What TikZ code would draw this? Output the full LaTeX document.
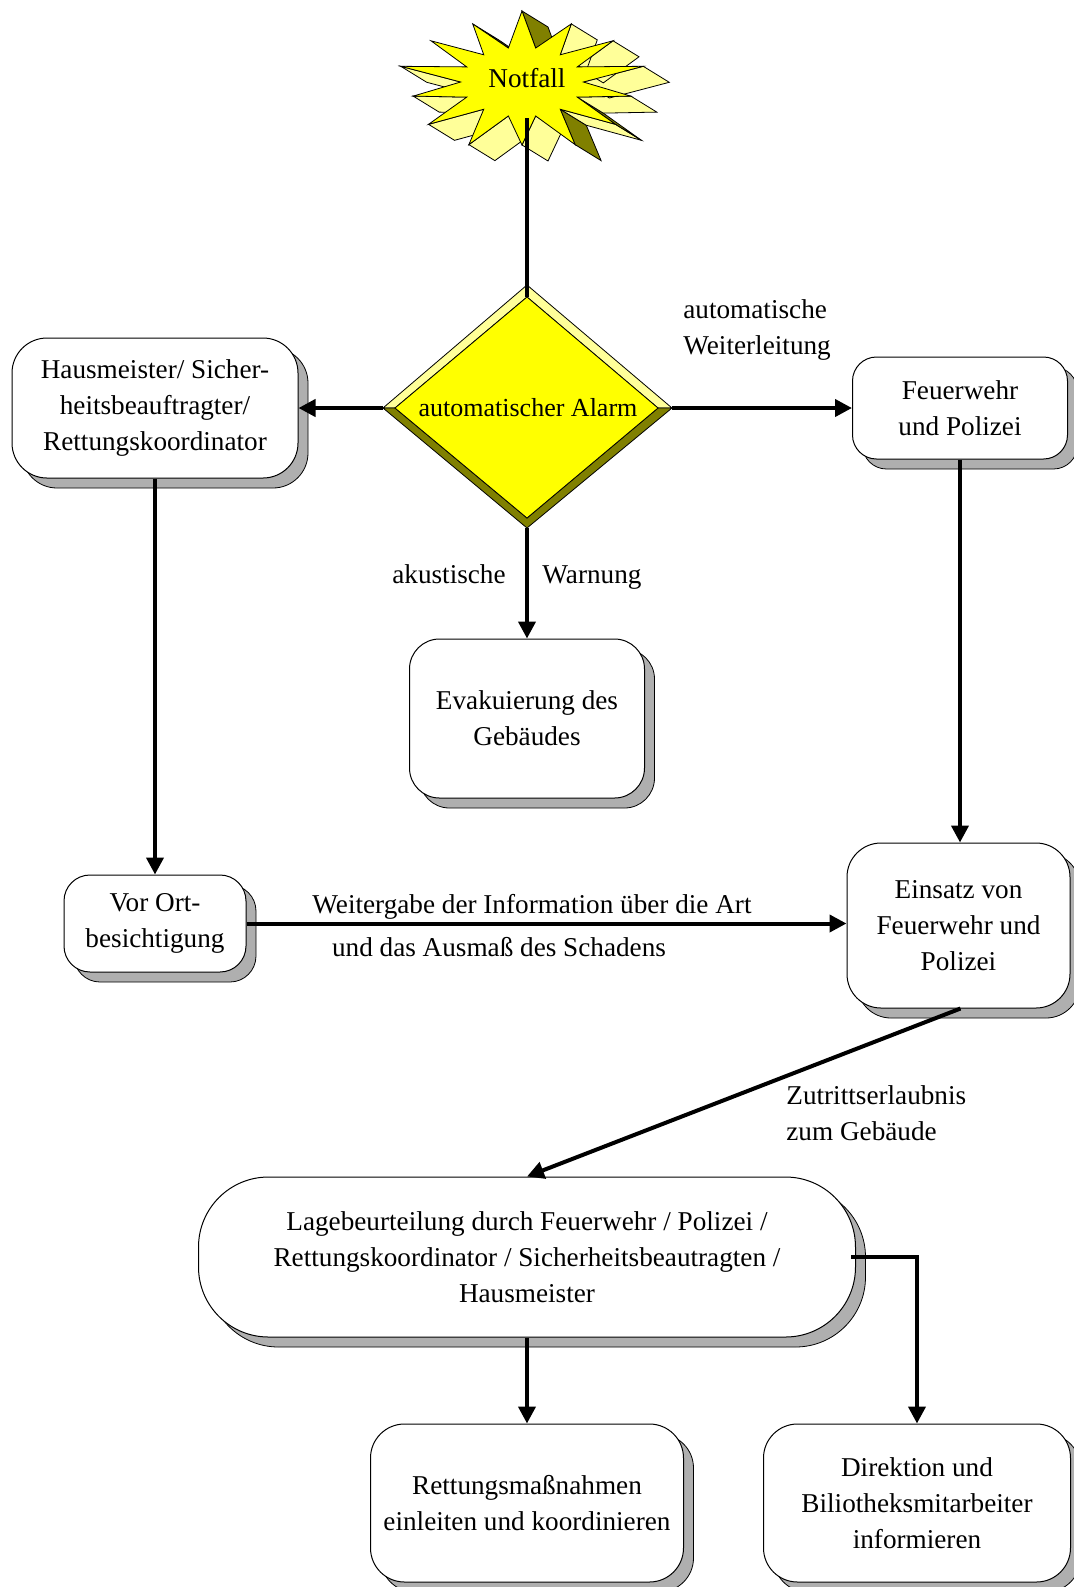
\documentclass[tikz,border=0pt]{standalone}
\usepackage{fontspec}
\setmainfont{Liberation Serif}
\usetikzlibrary{arrows.meta,shadows}
\definecolor{stary}{RGB}{255,255,0}
\definecolor{lighty}{RGB}{255,255,153}
\definecolor{olivey}{RGB}{128,128,0}
\definecolor{shadowgray}{RGB}{175,175,175}
\begin{document}
\begin{tikzpicture}[x=0.5pt,y=-0.5pt,
  font=\fontsize{13.6}{18}\selectfont,
  roundbox/.style={draw=black, line width=0.5pt, fill=white, rounded corners=#1,
    align=center, inner sep=0pt,
    general shadow={fill=shadowgray, draw=black, line width=0.4pt, shadow xshift=5pt, shadow yshift=-5pt}},
  roundbox/.default=17pt,
  conn/.style={line width=2pt},
  arr/.style={conn, -{Triangle[length=8.5pt,width=8.5pt]}},
  lbl/.style={inner sep=0pt, anchor=base}]
\useasboundingbox (0,0) rectangle (1074,1587);

% ---------- star (Notfall) ----------
\foreach \i in {0,...,27}{
  \pgfmathtruncatemacro\j{mod(\i+1,28)}
  \pgfmathsetmacro\angA{90+\i*360/28}
  \pgfmathsetmacro\angB{90+\j*360/28}
  \pgfmathsetmacro\radA{mod(\i,2)==0 ? 1+0.06*sin(5*\angA) : 0.52}
  \pgfmathsetmacro\radB{mod(\j,2)==0 ? 1+0.06*sin(5*\angB) : 0.52}
  \pgfmathsetmacro\xA{522+118*\radA*cos(\angA)}
  \pgfmathsetmacro\yA{82-67*\radA*sin(\angA)}
  \pgfmathsetmacro\xB{522+118*\radB*cos(\angB)}
  \pgfmathsetmacro\yB{82-67*\radB*sin(\angB)}
  \pgfmathtruncatemacro\vis{(16*(\xB-\xA)-26*(\yB-\yA))>0}
  \pgfmathtruncatemacro\up{(\xB-\xA)<0}
  \ifnum\vis=1
    \ifnum\up=1 \def\fc{olivey}\else\def\fc{lighty}\fi
    \filldraw[fill=\fc, draw=black, line width=0.4pt]
      (\xA,\yA) -- (\xB,\yB) -- (\xB+26,\yB+16) -- (\xA+26,\yA+16) -- cycle;
  \fi
}
\foreach \i in {0,...,27}{
  \pgfmathsetmacro\angA{90+\i*360/28}
  \pgfmathsetmacro\radA{mod(\i,2)==0 ? 1+0.06*sin(5*\angA) : 0.52}
  \coordinate (st\i) at ({522+118*\radA*cos(\angA)},{82-67*\radA*sin(\angA)});
}
\filldraw[fill=stary, draw=black, line width=0.4pt]
  (st0) \foreach \i in {1,...,27}{ -- (st\i)} -- cycle;
\node (notfall) at (527,78) {Notfall};
\coordinate (starbot) at (527,118);

% ---------- diamond ----------
\coordinate (dT) at (527,285);
\coordinate (dR) at (672,408);
\coordinate (dB) at (527,528);
\coordinate (dL) at (383,408);
\coordinate (iT) at (527,297);
\coordinate (iR) at (658,408);
\coordinate (iB) at (527,518);
\coordinate (iL) at (395,408);
\filldraw[fill=lighty, draw=black, line width=0.4pt] (dL) -- (dT) -- (dR) -- (iR) -- (iT) -- (iL) -- cycle;
\filldraw[fill=olivey, draw=black, line width=0.4pt] (dL) -- (dB) -- (dR) -- (iR) -- (iB) -- (iL) -- cycle;
\filldraw[fill=stary, draw=black, line width=0.4pt] (iT) -- (iR) -- (iB) -- (iL) -- cycle;
\node[font=\fontsize{13}{16}\selectfont] (alarm) at (528,408) {automatischer Alarm};

% ---------- boxes ----------
\node[roundbox=17.5pt, minimum width=143pt, minimum height=70pt] (haus) at (155,408)
  {Hausmeister/ Sicher-\\heitsbeauftragter/\\Rettungskoordinator};
\node[roundbox=12pt, minimum width=107.5pt, minimum height=51pt] (feuer) at (960,408)
  {Feuerwehr\\und Polizei};
\node[roundbox=15pt, minimum width=117.5pt, minimum height=79.5pt] (evak) at (527,718.5)
  {Evakuierung des\\Gebäudes};
\node[roundbox=13pt, minimum width=91pt, minimum height=48.5pt] (vorort) at (155,923.5)
  {Vor Ort-\\besichtigung};
\node[roundbox=17pt, minimum width=111.5pt, minimum height=82.5pt] (einsatz) at (958.5,925.5)
  {Einsatz von\\Feuerwehr und\\Polizei};
\node[roundbox=35pt, minimum width=328.5pt, minimum height=80pt] (lage) at (527,1257)
  {Lagebeurteilung durch Feuerwehr / Polizei /\\Rettungskoordinator / Sicherheitsbeautragten /\\Hausmeister};
\node[roundbox=17pt, minimum width=156.5pt, minimum height=79pt] (rett) at (527,1503)
  {Rettungsmaßnahmen\\einleiten und koordinieren};
\node[roundbox=17pt, minimum width=153.5pt, minimum height=79pt] (dir) at (917,1503)
  {Direktion und\\Biliotheksmitarbeiter\\informieren};

% ---------- connectors ----------
\draw[conn] (starbot) -- (iT);
\draw[arr] (dL) -- (haus.east);
\draw[arr] (dR) -- (feuer.west);
\draw[arr] (dB) -- (evak.north);
\draw[arr] (haus.south) -- (vorort.north);
\draw[arr] (feuer.south) -- (feuer.south |- einsatz.north);
\draw[arr] (vorort.east) -- (vorort.east -| einsatz.west);
\draw[arr] ([xshift=1pt]einsatz.south) -- (lage.north);
\draw[arr] (lage.south) -- (rett.north);
\draw[arr] ([xshift=-2.5pt]lage.east) -| (dir.north);

% ---------- labels ----------
\node[lbl, anchor=base west] (autoA) at (683,318) {automatische};
\node[lbl, anchor=base west] (autoB) at (683,354) {Weiterleitung};
\node[lbl] (akust) at (449,583) {akustische};
\node[lbl] (warn) at (592,583) {Warnung};
\node[lbl] (weitA) at (532,913) {Weitergabe der Information über die Art};
\node[lbl] (weitB) at (499,956) {und das Ausmaß des Schadens};
\node[lbl, anchor=base west] (zutA) at (786,1104) {Zutrittserlaubnis};
\node[lbl, anchor=base west] (zutB) at (786,1140) {zum Gebäude};
\end{tikzpicture}
\end{document}
